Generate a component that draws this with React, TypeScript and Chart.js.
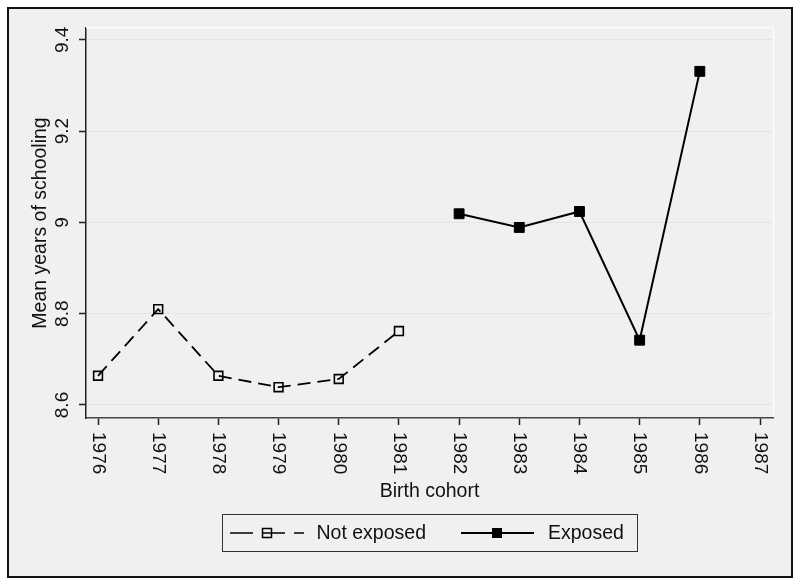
import React, { useEffect, useRef } from "react";
import { Chart, registerables } from "chart.js";

Chart.register(...registerables);

const notExposedYears = [1976, 1977, 1978, 1979, 1980, 1981];
const notExposedValues = [8.664, 8.81, 8.664, 8.639, 8.657, 8.762];
const exposedYears = [1982, 1983, 1984, 1985, 1986];
const exposedValues = [9.019, 8.989, 9.024, 8.742, 9.331];
const xTicks = [1976, 1977, 1978, 1979, 1980, 1981, 1982, 1983, 1984, 1985, 1986, 1987];
const xTickLabels = ["1976", "1977", "1978", "1979", "1980", "1981", "1982", "1983", "1984", "1985", "1986", "1987"];
const yTicks = [8.6, 8.8, 9.0, 9.2, 9.4];
const yTickLabels = ["8.6", "8.8", "9", "9.2", "9.4"];
const seriesNames = ["Not exposed", "Exposed"];
const xTitle = "Birth cohort";
const yTitle = "Mean years of schooling";

const FONT = "'Liberation Sans', Arial, Helvetica, sans-serif";
const INK = "#111";

const customPlugin = {
  id: "customDraw",
  beforeDatasetsDraw(chart: any) {
    const { ctx, chartArea: a } = chart;
    ctx.save();
    ctx.strokeStyle = "#fcfcfc";
    ctx.lineWidth = 1.5;
    ctx.beginPath();
    ctx.moveTo(a.left, a.top - 0.5);
    ctx.lineTo(a.right + 0.5, a.top - 0.5);
    ctx.lineTo(a.right + 0.5, a.bottom - 1);
    ctx.stroke();
    ctx.restore();
  },
  afterDraw(chart: any) {
    const { ctx, chartArea: a } = chart;
    const xs = chart.scales.x;
    const ys = chart.scales.y;
    ctx.save();
    ctx.fillStyle = INK;
    ctx.font = `19px ${FONT}`;
    // x tick labels, rotated clockwise
    xs.ticks.forEach((t: any, i: number) => {
      const px = xs.getPixelForValue(t.value);
      ctx.save();
      ctx.translate(px, a.bottom + 14);
      ctx.rotate(Math.PI / 2);
      ctx.textAlign = "left";
      ctx.textBaseline = "middle";
      ctx.fillText(xTickLabels[i], 0, 0);
      ctx.restore();
    });
    // y tick labels, rotated counter-clockwise
    ys.ticks.forEach((t: any, i: number) => {
      const py = ys.getPixelForValue(t.value);
      ctx.save();
      ctx.translate(a.left - 23.5, py);
      ctx.rotate(-Math.PI / 2);
      ctx.textAlign = "center";
      ctx.textBaseline = "middle";
      ctx.fillText(yTickLabels[i], 0, 0);
      ctx.restore();
    });
    // legend
    const bx = 213.5, by = 505.5, bw = 415, bh = 37;
    ctx.strokeStyle = "#333";
    ctx.lineWidth = 1;
    ctx.strokeRect(bx, by, bw, bh);
    const cy = by + bh / 2;
    ctx.font = `19.5px ${FONT}`;
    ctx.textAlign = "left";
    ctx.textBaseline = "middle";
    // entry 1: dashed line with hollow square
    ctx.strokeStyle = "#000";
    ctx.lineWidth = 1.6;
    ctx.setLineDash([23, 9]);
    ctx.beginPath();
    ctx.moveTo(221, cy);
    ctx.lineTo(295, cy);
    ctx.stroke();
    ctx.setLineDash([]);
    ctx.lineWidth = 1.5;
    ctx.strokeRect(258 - 4.5, cy - 4.5, 9, 9);
    ctx.fillStyle = INK;
    ctx.fillText(seriesNames[0], 307.5, cy + 1);
    // entry 2: solid line with filled square
    ctx.lineWidth = 1.8;
    ctx.beginPath();
    ctx.moveTo(452, cy);
    ctx.lineTo(525, cy);
    ctx.stroke();
    ctx.fillStyle = "#000";
    ctx.fillRect(488 - 5, cy - 5, 10, 10);
    ctx.fillStyle = INK;
    ctx.fillText(seriesNames[1], 539, cy + 1);
    ctx.restore();
  },
};

export default function App() {
  const ref = useRef<HTMLCanvasElement | null>(null);
  useEffect(() => {
    if (!ref.current) return;
    Chart.defaults.font.family = FONT;
    Chart.defaults.color = INK;
    const chart = new Chart(ref.current, {
      type: "line",
      data: {
        datasets: [
          {
            label: seriesNames[0],
            data: notExposedYears.map((x, i) => ({ x, y: notExposedValues[i] })),
            borderColor: "#000",
            borderWidth: 1.8,
            borderDash: [13, 7],
            backgroundColor: "rgba(0,0,0,0)",
            pointStyle: "rect",
            pointRadius: 6.2,
            pointBorderWidth: 1.6,
            pointBorderColor: "#000",
            pointBackgroundColor: "rgba(0,0,0,0)",
            tension: 0,
            fill: false,
          },
          {
            label: seriesNames[1],
            data: exposedYears.map((x, i) => ({ x, y: exposedValues[i] })),
            borderColor: "#000",
            borderWidth: 2,
            backgroundColor: "#000",
            pointStyle: "rect",
            pointRadius: 7,
            pointBorderWidth: 1,
            pointBorderColor: "#000",
            pointBackgroundColor: "#000",
            tension: 0,
            fill: false,
          },
        ],
      },
      options: {
        responsive: false,
        animation: false,
        devicePixelRatio: 1,
        layout: { padding: { left: 0, top: 19, right: 18, bottom: 72.2 } },
        plugins: { legend: { display: false }, tooltip: { enabled: false } },
        scales: {
          x: {
            type: "linear",
            min: 1975.8,
            max: 1987.216,
            afterBuildTicks: (s: any) => {
              s.ticks = xTicks.map((v) => ({ value: v }));
            },
            afterFit: (s: any) => {
              s.height = 85.8;
            },
            ticks: { display: false },
            grid: {
              drawOnChartArea: false,
              drawTicks: true,
              tickLength: 7,
              tickColor: "#222",
              tickWidth: 1.5,
            },
            border: { display: true, color: "#444", width: 1.5 },
            title: {
              display: true,
              text: xTitle,
              font: { size: 19.5, family: FONT },
              color: INK,
              padding: 0,
            },
          },
          y: {
            type: "linear",
            min: 8.5715,
            max: 9.426,
            afterBuildTicks: (s: any) => {
              s.ticks = yTicks.map((v) => ({ value: v }));
            },
            afterFit: (s: any) => {
              s.width = 77;
            },
            ticks: { display: false },
            grid: {
              drawOnChartArea: true,
              color: "#e4e4e4",
              lineWidth: 1,
              drawTicks: true,
              tickLength: 7,
              tickColor: "#222",
              tickWidth: 1.5,
            },
            border: { display: true, color: "#222", width: 1.5 },
            title: {
              display: true,
              text: yTitle,
              font: { size: 19.5, family: FONT },
              color: INK,
              padding: { top: 20, bottom: 0 },
            },
          },
        },
      },
      plugins: [customPlugin],
    } as any);
    return () => chart.destroy();
  }, []);

  return (
    <div
      style={{
        position: "absolute",
        left: 7,
        top: 7,
        width: 786,
        height: 571,
        boxSizing: "border-box",
        border: "2px solid #111",
        background: "#f0f0f0",
      }}
    >
      <canvas ref={ref} width={782} height={567} style={{ display: "block", width: 782, height: 567 }} />
    </div>
  );
}
